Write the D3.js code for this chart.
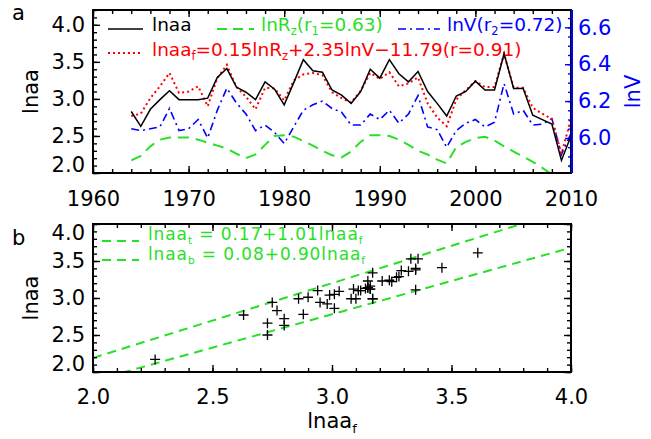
<!DOCTYPE html>
<html>
<head>
<meta charset="utf-8">
<script src="https://cdn.jsdelivr.net/npm/d3@7"></script>
<style>
body { margin: 0; background: #fff; }
text { font-family: "DejaVu Sans", sans-serif; }
</style>
</head>
<body>
<div class="chart"></div>
<script>
var width = 651, height = 439;

// yearly series, 1964-2010
var years = [1964,1965,1966,1967,1968,1969,1970,1971,1972,1973,1974,1975,1976,1977,1978,1979,1980,1981,1982,1983,1984,1985,1986,1987,
             1988,1989,1990,1991,1992,1993,1994,1995,1996,1997,1998,1999,2000,2001,2002,2003,2004,2005,2006,2007,2008,2009,2010];
var lnaa = [2.83,2.63,2.86,2.99,3.11,2.99,2.99,2.99,3.01,3.29,3.41,3.16,3.09,2.99,3.23,3.13,2.92,3.22,3.53,3.38,3.36,3.12,3.05,2.94,
            3.10,3.40,3.28,3.53,3.34,3.23,3.37,3.10,2.94,2.77,3.04,3.10,3.24,3.12,3.12,3.61,3.14,3.14,2.78,2.72,2.66,2.17,2.50];
var lnaaF = [2.77,2.80,3.01,3.17,3.35,3.08,3.10,3.17,2.90,3.28,3.46,3.16,3.03,2.86,3.15,3.14,2.98,3.25,3.33,3.35,3.32,3.09,3.01,2.95,
             3.11,3.35,3.27,3.36,3.17,3.21,3.29,2.94,2.75,2.63,2.99,3.12,3.24,3.16,3.16,3.61,3.15,3.15,2.88,2.80,2.73,2.26,2.73];
var lnRz = [2.17,2.23,2.36,2.45,2.48,2.48,2.48,2.45,2.41,2.37,2.33,2.26,2.20,2.25,2.38,2.50,2.51,2.49,2.43,2.37,2.30,2.24,2.21,2.29,
            2.42,2.51,2.51,2.50,2.45,2.38,2.30,2.25,2.18,2.13,2.35,2.42,2.47,2.49,2.44,2.36,2.29,2.22,2.15,2.07,1.98,1.93,2.12];
var lnV = [6.05,6.04,6.05,6.06,6.16,6.04,6.05,6.10,6.00,6.15,6.27,6.19,6.13,6.04,6.07,6.03,5.97,6.06,6.15,6.18,6.20,6.16,6.14,6.07,
           6.07,6.13,6.10,6.15,6.08,6.13,6.23,6.06,6.045,5.95,6.04,6.08,6.10,6.06,6.085,6.295,6.13,6.15,6.07,6.075,6.105,5.91,6.025];

// fit lines in panel b: [intercept, slope]
var fitTop = [0.17, 1.01];
var fitBot = [0.08, 0.90];

// tick values
var yearTicks = [1960,1970,1980,1990,2000,2010];
var lnaaTicks = [2.0,2.5,3.0,3.5,4.0];
var lnVTicks = [6.0,6.2,6.4,6.6];

var green = "#28e028", blue = "#0000ff", red = "#ff0000";
var fsTick = 21, fsLeg = 18.5;

var svg = d3.select(".chart").append("svg")
    .attr("width", width).attr("height", height);

var pa = { x0: 93, x1: 571, y0: 10, y1: 173 };
var pb = { x0: 93, x1: 571, y0: 224, y1: 372 };

var xA = d3.scaleLinear().domain([1960, 2010]).range([pa.x0, pa.x1]);
var yA = d3.scaleLinear().domain([2.0, 4.2]).range([pa.y1, pa.y0]);
var yV = d3.scaleLinear().domain([5.81, 6.694]).range([pa.y1, pa.y0]);
var xB = d3.scaleLinear().domain([2.0, 4.0]).range([pb.x0, pb.x1]);
var yB = d3.scaleLinear().domain([2.0, 4.0]).range([pb.y1, pb.y0]);

function steps(a, b, s) {
  var out = [];
  for (var v = a; v <= b + 1e-9; v += s) out.push(+v.toFixed(4));
  return out;
}

// draws an IDL style axis: inward minor + major ticks
function axis(gen, scale, pos, minor, major, fmt, pad, color, clampRange) {
  var gm = svg.append("g").attr("transform", pos)
    .call(gen(scale).tickValues(minor).tickSize(-4).tickSizeOuter(0).tickFormat(""));
  gm.select(".domain").remove();
  gm.attr("color", color || "#000").selectAll("line").attr("stroke-width", 1.4);
  var g = svg.append("g").attr("transform", pos)
    .call(gen(scale).tickValues(major).tickSize(-7).tickSizeOuter(0).tickPadding(pad)
      .tickFormat(fmt ? d3.format(fmt) : ""));
  g.select(".domain").remove();
  g.attr("color", color || "#000").attr("font-size", fsTick).attr("font-family", "DejaVu Sans, sans-serif");
  g.selectAll("line").attr("stroke-width", 1.4);
  if (clampRange) {
    // end labels pulled inside the frame
    g.selectAll(".tick text").attr("y", function(d) {
      var p = scale(d);
      if (p > clampRange[1] - 6) return -8;
      if (p < clampRange[0] + 6) return 9;
      return 0;
    });
  }
  return g;
}

function rich(sel, parts, fs) {
  var shift = 0;
  parts.forEach(function(p) {
    var t = sel.append("tspan").text(p[0]);
    if (p[1]) {
      t.attr("font-size", fs * 0.62).attr("dy", fs * 0.24 - shift);
      shift = fs * 0.24;
    } else if (shift) {
      t.attr("dy", -shift);
      shift = 0;
    }
  });
  return sel;
}

// clip regions
var defs = svg.append("defs");
defs.append("clipPath").attr("id", "clipA").append("rect")
  .attr("x", pa.x0).attr("y", pa.y0).attr("width", pa.x1 - pa.x0).attr("height", pa.y1 - pa.y0);
defs.append("clipPath").attr("id", "clipB").append("rect")
  .attr("x", pb.x0).attr("y", pb.y0).attr("width", pb.x1 - pb.x0).attr("height", pb.y1 - pb.y0);

// ---------- panel a ----------
var plotA = svg.append("g").attr("clip-path", "url(#clipA)");

function seriesLine(vals, ys) {
  return d3.line().x(function(d, i) { return xA(years[i]); }).y(function(d) { return ys(d); })(vals);
}

plotA.append("path").attr("d", seriesLine(lnRz, yA))
  .attr("fill", "none").attr("stroke", green).attr("stroke-width", 2).attr("stroke-dasharray", "11,7");
plotA.append("path").attr("d", seriesLine(lnV, yV))
  .attr("fill", "none").attr("stroke", blue).attr("stroke-width", 1.6).attr("stroke-dasharray", "8,4,2,4");
plotA.append("path").attr("d", seriesLine(lnaaF, yA))
  .attr("fill", "none").attr("stroke", red).attr("stroke-width", 2).attr("stroke-dasharray", "2,3");
plotA.append("path").attr("d", seriesLine(lnaa, yA))
  .attr("fill", "none").attr("stroke", "#000").attr("stroke-width", 1.5);

axis(d3.axisBottom, xA, "translate(0," + pa.y1 + ")", steps(1960, 2010, 2), yearTicks, "d", 18);
axis(d3.axisTop, xA, "translate(0," + pa.y0 + ")", steps(1960, 2010, 2), yearTicks, null, 0);
axis(d3.axisLeft, yA, "translate(" + pa.x0 + ",0)", steps(2.0, 4.2, 0.1), lnaaTicks, ".1f", 8, "#000", [pa.y0, pa.y1]);
axis(d3.axisRight, yV, "translate(" + (pa.x1 + 1) + ",0)", steps(5.85, 6.65, 0.05), lnVTicks, ".1f", 6, blue);

svg.append("rect").attr("x", pa.x0).attr("y", pa.y0)
  .attr("width", pa.x1 - pa.x0).attr("height", pa.y1 - pa.y0)
  .attr("fill", "none").attr("stroke", "#000").attr("stroke-width", 2);
svg.append("line").attr("x1", pa.x1 + 1).attr("x2", pa.x1 + 1).attr("y1", pa.y0).attr("y2", pa.y1)
  .attr("stroke", blue).attr("stroke-width", 2);

// legend a
var legA = svg.append("g").attr("font-size", fsLeg).style("white-space", "pre");
legA.append("line").attr("x1", 108).attr("x2", 143).attr("y1", 29).attr("y2", 29)
  .attr("stroke", "#000").attr("stroke-width", 1.5);
rich(legA.append("text").attr("x", 152).attr("y", 31).attr("fill", "#000"), [["lnaa"]], fsLeg);
legA.append("line").attr("x1", 217).attr("x2", 254).attr("y1", 29).attr("y2", 29)
  .attr("stroke", green).attr("stroke-width", 2).attr("stroke-dasharray", "10,6");
rich(legA.append("text").attr("x", 261).attr("y", 31).attr("fill", green),
  [["lnR"], ["z", 1], ["(r"], ["1", 1], ["=0.63)"]], fsLeg);
legA.append("line").attr("x1", 398).attr("x2", 440).attr("y1", 29).attr("y2", 29)
  .attr("stroke", blue).attr("stroke-width", 1.6).attr("stroke-dasharray", "8,4,2,4");
rich(legA.append("text").attr("x", 447).attr("y", 31).attr("fill", blue),
  [["lnV(r"], ["2", 1], ["=0.72)"]], fsLeg);
legA.append("line").attr("x1", 108).attr("x2", 143).attr("y1", 53).attr("y2", 53)
  .attr("stroke", red).attr("stroke-width", 2).attr("stroke-dasharray", "2,3");
rich(legA.append("text").attr("x", 152).attr("y", 56).attr("fill", red),
  [["lnaa"], ["f", 1], ["=0.15lnR"], ["z", 1], ["+2.35lnV\u221211.79(r=0.91)"]], fsLeg);

// titles a
svg.append("text").attr("x", 12).attr("y", 20).attr("font-size", fsTick).text("a");
svg.append("text").attr("transform", "translate(38," + ((pa.y0 + pa.y1) / 2) + ") rotate(-90)")
  .attr("text-anchor", "middle").attr("font-size", fsTick).text("lnaa");
svg.append("text").attr("transform", "translate(640," + ((pa.y0 + pa.y1) / 2) + ") rotate(-90)")
  .attr("text-anchor", "middle").attr("font-size", fsTick).attr("fill", blue).text("lnV");

// ---------- panel b ----------
var plotB = svg.append("g").attr("clip-path", "url(#clipB)");
var fitLine = d3.line().x(function(d) { return xB(d[0]); }).y(function(d) { return yB(d[1]); });
[fitTop, fitBot].forEach(function(f) {
  var pts = xB.domain().map(function(x) { return [x, f[0] + f[1] * x]; });
  plotB.append("path").attr("d", fitLine(pts))
    .attr("fill", "none").attr("stroke", green).attr("stroke-width", 2).attr("stroke-dasharray", "9,6");
});

plotB.selectAll(".pt").data(years).enter().append("path")
  .attr("class", "pt")
  .attr("d", "M-5,0H5M0,-5V5")
  .attr("transform", function(d, i) { return "translate(" + xB(lnaaF[i]) + "," + yB(lnaa[i]) + ")"; })
  .attr("stroke", "#000").attr("stroke-width", 1.3).attr("fill", "none");

axis(d3.axisBottom, xB, "translate(0," + pb.y1 + ")", steps(2.0, 4.0, 0.1), lnaaTicks, ".1f", 17);
axis(d3.axisTop, xB, "translate(0," + pb.y0 + ")", steps(2.0, 4.0, 0.1), lnaaTicks, null, 0);
axis(d3.axisLeft, yB, "translate(" + pb.x0 + ",0)", steps(2.0, 4.0, 0.1), lnaaTicks, ".1f", 8, "#000", [pb.y0, pb.y1]);
axis(d3.axisRight, yB, "translate(" + pb.x1 + ",0)", steps(2.0, 4.0, 0.1), lnaaTicks, null, 0);

svg.append("rect").attr("x", pb.x0).attr("y", pb.y0)
  .attr("width", pb.x1 - pb.x0).attr("height", pb.y1 - pb.y0)
  .attr("fill", "none").attr("stroke", "#000").attr("stroke-width", 2);

// legend b
var legB = svg.append("g").attr("font-size", 17).attr("fill", green)
  .style("white-space", "pre").attr("letter-spacing", 0.9);
legB.append("line").attr("x1", 102).attr("x2", 139).attr("y1", 241).attr("y2", 241)
  .attr("stroke", green).attr("stroke-width", 2).attr("stroke-dasharray", "9,6");
rich(legB.append("text").attr("x", 148).attr("y", 240),
  [["lnaa"], ["t", 1], [" = 0.17+1.01lnaa"], ["f", 1]], 17);
legB.append("line").attr("x1", 102).attr("x2", 139).attr("y1", 260).attr("y2", 260)
  .attr("stroke", green).attr("stroke-width", 2).attr("stroke-dasharray", "9,6");
rich(legB.append("text").attr("x", 148).attr("y", 260),
  [["lnaa"], ["b", 1], [" = 0.08+0.90lnaa"], ["f", 1]], 17);

// titles b
svg.append("text").attr("x", 12).attr("y", 245).attr("font-size", fsTick).text("b");
svg.append("text").attr("transform", "translate(38," + ((pb.y0 + pb.y1) / 2) + ") rotate(-90)")
  .attr("text-anchor", "middle").attr("font-size", fsTick).text("lnaa");
rich(svg.append("text").attr("x", (pb.x0 + pb.x1) / 2).attr("y", 428)
  .attr("text-anchor", "middle").attr("font-size", fsTick), [["lnaa"], ["f", 1]], fsTick);
</script>
</body>
</html>
